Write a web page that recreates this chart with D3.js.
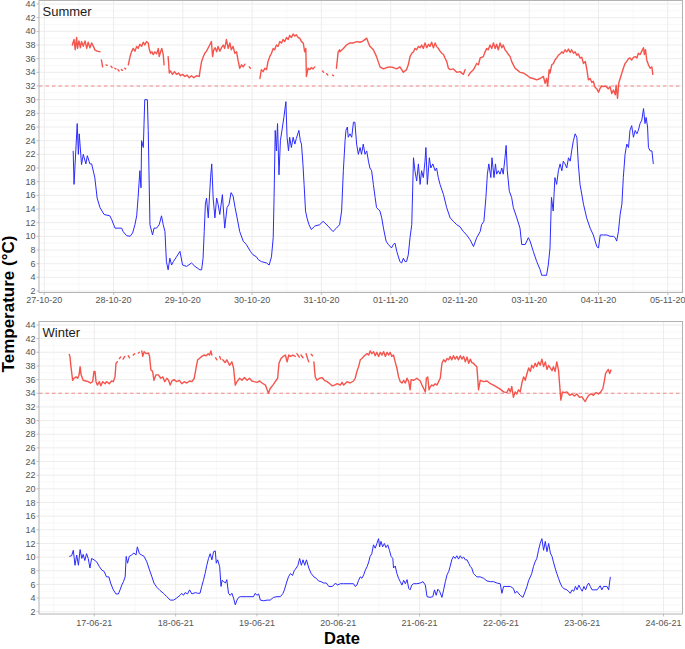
<!DOCTYPE html>
<html><head><meta charset="utf-8">
<script src="https://cdn.jsdelivr.net/npm/d3@7"></script>
<style>body{margin:0;background:#fff}svg{font-family:"Liberation Sans",Arial,sans-serif}</style>
</head><body><svg id="c" width="685" height="649"></svg>
<script>
// ---------------- DATA ----------------
// times are hours after the panel's reference midnight (UTC)
const summerRef = "2020-10-27T00:00:00Z";
const winterRef = "2021-06-16T00:00:00Z";
const summerDays = ["2020-10-27","2020-10-28","2020-10-29","2020-10-30","2020-10-31","2020-11-01","2020-11-02","2020-11-03","2020-11-04","2020-11-05"];
const winterDays = ["2021-06-17","2021-06-18","2021-06-19","2021-06-20","2021-06-21","2021-06-22","2021-06-23","2021-06-24"];
const yTicks = [2,4,6,8,10,12,14,16,18,20,22,24,26,28,30,32,34,36,38,40,42,44];
const summerThreshold = 32;
const winterThreshold = 34;

// Summer: red series (upper), null = gap in record
const summerRed = [[9.7,38.0],[10.3,38.8],[10.7,37.3],[11.2,39.1],[11.5,37.5],[12.0,38.6],[12.5,37.6],[12.9,38.5],[13.5,37.8],[14.1,38.6],[14.7,37.5],[15.2,38.4],[15.8,37.6],[16.4,38.3],[17.0,37.8],[17.5,37.3],[18.3,37.1],[19.3,37.0],null,
 [19.8,35.8],[20.2,34.8],null,[21.4,35.1],[21.8,35.0],null,[23.1,34.9],[23.5,34.7],null,[24.4,34.6],[24.8,34.5],null,[25.5,34.4],[25.9,34.2],null,[26.7,34.4],[27.1,34.3],null,[27.8,34.6],[28.2,34.5],null,
 [29.1,35.1],[29.7,36.3],[30.2,37.0],[30.8,37.5],[31.4,37.1],[32.0,37.8],[32.5,37.5],[33.1,38.1],[33.7,37.8],[34.3,38.4],[34.8,38.0],[35.4,38.5],[36.0,38.3],[36.3,37.5],[36.8,36.8],[37.3,37.0],[37.7,36.6],[38.3,37.0],[38.9,36.7],[39.5,37.5],[39.8,36.3],[40.3,37.0],[40.7,37.5],[41.2,36.6],[41.5,35.1],null,
 [42.9,36.3],[43.3,33.9],[43.7,34.2],[44.4,33.7],[45.1,34.1],[45.8,33.7],[46.5,33.9],[47.2,33.5],[47.9,33.7],[48.7,33.4],[49.5,33.6],[50.2,33.2],[51.0,33.5],[51.8,33.2],[52.7,33.5],[53.7,33.4],[53.9,34.1],[54.5,35.6],[55.0,36.2],[55.6,36.8],[56.2,37.1],[56.8,37.6],[57.3,38.0],[57.9,38.5],[58.3,36.3],[58.7,37.3],[59.2,37.6],[59.7,37.0],[60.2,37.8],[60.8,37.1],[61.4,37.6],[62.0,38.0],[62.5,37.5],[63.1,38.8],[63.7,37.5],[64.3,38.3],[64.8,37.3],[65.4,37.8],[66.0,36.8],[66.6,37.0],[67.2,35.6],[67.7,34.6],[68.3,35.1],[68.9,34.8],[69.5,35.2],null,
 [71.0,34.8],[71.4,34.6],null,
 [74.7,33.1],[75.2,34.4],[75.8,34.1],[76.4,34.6],[77.0,34.4],[77.5,35.6],[78.1,36.3],[78.7,36.8],[79.3,37.5],[79.8,37.3],[80.4,38.0],[81.0,37.8],[81.6,38.5],[82.2,38.3],[82.7,38.8],[83.3,38.5],[83.9,39.1],[84.5,38.8],[85.0,39.4],[85.6,39.1],[86.2,39.6],[86.8,39.3],[87.3,39.5],[87.9,39.1],[88.5,39.0],[89.1,38.5],[89.7,38.3],[90.2,37.0],[90.6,37.5],[90.8,33.4],[91.4,34.6],[92.0,34.4],[92.5,34.7],[93.1,34.5],[93.7,34.8],null,
 [96.4,34.2],[96.8,34.0],null,[97.8,33.8],[98.2,33.6],null,[99.8,33.6],[100.2,33.5],null,
 [101.2,34.6],[101.8,37.0],[102.3,37.3],[102.4,37.0],[103.6,37.5],[104.7,38.0],[105.9,38.3],[107.1,38.3],[108.2,38.5],[109.4,38.4],[110.5,38.6],[111.7,39.0],[112.3,38.3],[112.8,37.8],[114.0,37.3],[115.1,36.3],[116.3,34.8],[117.5,34.5],[118.6,34.7],[119.8,34.8],[120.9,34.7],[122.1,34.5],[123.2,34.8],[124.4,34.0],[125.5,34.4],[126.1,35.1],[126.7,36.3],[127.3,36.8],[127.9,37.0],[128.4,37.5],[129.0,37.3],[129.6,37.8],[130.2,37.6],[130.7,38.0],[131.3,37.5],[131.9,38.3],[132.5,37.6],[133.1,38.1],[133.6,37.8],[134.2,38.4],[134.8,37.6],[135.4,38.3],[135.9,37.8],[136.5,37.5],[137.1,37.1],[137.7,36.8],[138.3,36.6],[138.8,36.1],[139.4,35.6],[140.0,34.6],[140.6,34.4],[141.7,34.5],[142.9,34.0],[144.0,34.1],[145.2,33.7],[145.8,34.4],null,
 [146.9,33.5],[147.5,33.9],[148.7,34.4],[149.8,35.3],[150.4,35.1],[151.0,36.1],[152.1,36.3],[152.7,37.0],[153.3,37.5],[153.8,37.3],[154.4,38.0],[155.0,37.5],[155.6,38.3],[156.2,37.5],[156.7,38.1],[157.3,37.3],[157.9,38.3],[158.5,37.6],[159.0,38.0],[159.6,37.3],[160.2,37.0],[160.8,36.6],[161.4,36.3],[161.9,35.6],[162.5,35.1],[163.1,34.6],[163.7,34.4],[164.8,34.0],[166.0,33.9],[167.1,33.6],[168.3,33.2],[169.4,33.1],[170.6,32.9],[171.8,33.1],[172.9,33.4],[173.5,32.4],[174.0,33.1],[174.4,32.0],[174.9,34.4],[175.2,33.9],[175.8,35.1],[176.4,35.3],[176.9,35.8],[177.5,36.1],[178.1,36.5],[178.7,36.7],[179.3,37.0],[179.8,36.8],[180.4,37.3],[181.0,37.0],[181.6,37.4],[182.2,36.9],[182.7,37.3],[183.3,36.8],[183.9,37.0],[184.5,36.5],[185.0,36.7],[185.6,36.1],[186.2,36.2],[186.8,35.3],[187.4,35.6],[187.9,34.6],[188.5,32.9],[189.1,33.1],[189.7,32.5],[190.2,32.7],[190.8,31.8],[191.4,31.6],[192.0,31.1],[192.6,31.7],[193.1,32.0],[193.7,31.9],[194.3,32.0],[194.9,31.8],[195.4,31.6],[196.0,31.9],[196.6,30.9],[197.2,31.4],[197.8,30.7],[198.1,32.1],[198.6,30.2],[199.0,32.4],[199.5,33.1],[200.1,33.9],[200.6,34.6],[201.2,35.3],[201.8,35.6],[202.4,36.0],[202.9,36.1],[203.5,35.8],[204.1,36.2],[204.7,36.3],[205.3,36.1],[205.8,36.8],[206.4,36.6],[207.0,37.1],[207.6,37.6],[207.9,36.6],[208.3,37.3],[208.7,35.8],[209.3,35.1],[209.9,34.6],[210.5,34.8],[210.8,33.7]];

// Summer: blue series (lower)
const summerBlue = [[10.0,22.5],[10.3,17.6],[11.4,26.5],[11.8,22.0],[12.1,25.0],[12.9,20.5],[13.5,22.0],[14.4,20.6],[14.9,21.8],[15.8,20.6],[16.4,20.6],[17.5,18.6],[18.3,15.6],[19.3,14.2],[20.7,13.2],[22.7,13.0],[23.3,12.5],[24.5,11.2],[26.8,11.2],[27.3,10.7],[28.5,10.1],[29.7,10.0],[30.6,10.5],[31.4,11.7],[32.0,13.0],[32.5,15.7],[33.1,19.6],[33.5,17.1],[33.7,24.0],[34.3,23.0],[34.8,30.0],[35.7,30.0],[36.0,25.5],[36.6,11.7],[37.5,10.2],[38.0,11.2],[38.9,11.2],[39.8,11.7],[40.6,13.0],[41.2,11.7],[41.8,10.7],[42.3,6.3],[42.9,5.1],[43.5,6.8],[44.1,5.8],[44.7,6.3],[45.8,7.0],[47.0,7.8],[47.9,5.8],[49.3,5.6],[51.0,6.1],[52.2,5.6],[53.9,5.1],[54.5,5.1],[55.0,6.8],[55.4,10.7],[55.8,14.7],[56.2,15.6],[56.8,12.7],[57.6,18.6],[58.0,20.6],[58.5,15.6],[59.1,12.7],[59.7,15.6],[60.2,14.7],[60.8,13.2],[61.7,16.1],[62.5,11.2],[63.3,14.2],[64.0,14.7],[64.7,16.4],[65.4,15.9],[66.1,14.2],[66.8,12.7],[67.7,10.7],[68.9,9.3],[70.0,8.8],[71.4,7.8],[72.3,7.3],[73.5,7.0],[74.1,6.6],[75.2,6.3],[77.0,6.1],[77.9,5.8],[78.7,7.0],[79.3,9.8],[79.6,15.7],[80.0,25.5],[80.4,22.5],[80.8,26.5],[81.3,19.0],[81.8,24.0],[83.0,27.4],[83.7,29.7],[84.1,24.5],[84.6,22.5],[85.0,24.5],[85.6,23.0],[86.2,24.5],[86.8,23.5],[87.3,24.3],[88.2,25.5],[88.7,24.0],[89.1,23.5],[89.6,20.6],[90.0,17.6],[90.5,13.7],[91.0,12.7],[91.7,11.7],[92.5,11.0],[93.7,11.5],[95.4,11.7],[96.6,12.2],[98.3,11.5],[100.0,10.7],[101.2,11.2],[102.3,11.7],
 [103.0,13.7],[103.6,19.6],[104.2,24.0],[104.5,25.5],[105.0,26.0],[105.3,24.5],[105.9,25.0],[106.5,24.5],[107.1,26.7],[107.6,26.7],[108.2,23.5],[108.8,22.0],[109.4,23.0],[109.9,22.0],[110.5,23.5],[111.1,22.0],[111.7,22.5],[112.3,21.0],[112.8,20.0],[113.4,19.6],[114.0,17.6],[114.6,15.7],[115.1,14.2],[116.3,13.7],[116.9,12.7],[117.5,11.2],[118.4,9.3],[119.2,8.8],[120.3,8.3],[120.9,8.8],[121.5,9.0],[122.1,7.8],[123.2,6.3],[123.8,6.1],[124.4,6.8],[125.0,6.3],[125.5,6.3],[126.1,7.3],[126.7,9.8],[127.3,11.7],[127.9,21.5],[128.4,19.6],[129.0,18.1],[129.6,20.6],[130.2,17.6],[130.7,19.6],[131.3,18.6],[131.9,21.0],[132.2,23.0],[132.7,17.6],[133.4,21.5],[133.9,20.0],[134.6,20.6],[135.4,19.6],[135.9,20.0],[136.5,18.6],[137.1,17.6],[138.3,16.1],[139.4,14.2],[140.6,12.7],[141.7,12.2],[142.9,11.7],[144.0,11.4],[145.2,10.7],[146.3,10.2],[147.5,9.5],[148.7,8.5],[149.8,9.8],[151.0,10.7],[151.5,11.7],[152.3,12.2],[153.0,15.7],[153.5,19.1],[154.0,20.6],[154.7,18.6],[155.1,21.5],[155.8,18.6],[156.3,20.6],[156.7,19.1],[157.3,19.6],[157.9,19.1],[158.5,20.0],[159.0,19.1],[159.6,21.5],[160.0,23.3],[160.4,19.6],[161.1,16.6],[161.9,15.7],[162.5,14.2],[163.7,12.7],[164.8,11.2],[165.4,8.8],[166.6,8.8],[167.7,9.8],[168.3,9.3],[169.4,7.8],[170.6,6.3],[171.8,5.1],[172.3,4.3],[172.9,4.3],[174.0,4.3],[174.6,5.8],[175.2,8.3],[175.7,15.7],[176.3,13.7],[176.9,18.6],[177.5,17.6],[178.1,19.6],[178.7,20.6],[179.3,19.6],[179.8,21.0],[180.4,20.6],[181.0,20.0],[181.6,21.5],[182.2,21.0],[182.7,22.5],[183.3,24.0],[183.9,25.0],[184.5,24.5],[185.0,20.6],[185.6,17.6],[186.8,14.7],[187.9,12.7],[189.1,11.2],[190.2,10.2],[191.4,8.5],[192.0,8.3],[192.6,10.2],[193.7,10.2],[194.9,10.2],[196.0,10.0],[197.2,10.0],[197.8,9.8],[198.3,9.3],[198.9,10.7],[199.5,13.2],[200.1,14.7],[200.6,18.6],[201.2,22.0],[201.8,23.5],[202.4,23.0],[202.9,25.5],[203.5,26.2],[204.1,24.5],[204.7,25.5],[205.3,25.0],[205.8,25.5],[206.4,26.5],[207.0,27.0],[207.6,28.7],[208.1,26.5],[208.5,27.4],[209.0,26.0],[209.3,23.0],[209.9,22.5],[210.5,22.5],[211.0,20.6]];

// Winter: red series (upper)
const winterRed = [[16.6,39.7],[16.8,39.4],[17.1,37.9],[17.6,35.9],[18.0,36.2],[18.6,36.4],[19.1,36.2],[19.5,36.7],[19.8,37.9],[20.1,36.7],[20.7,35.9],[21.5,35.8],[22.2,35.7],[22.9,35.5],[23.5,35.7],[23.9,37.2],[24.2,37.2],[24.5,35.7],[24.9,35.2],[25.5,35.7],[25.9,35.1],[26.5,35.7],[27.2,35.4],[27.6,35.7],[28.4,35.4],[29.1,35.8],[29.6,35.7],[30.1,36.4],[30.4,38.4],[30.8,38.6],null,
 [31.4,39.1],[31.8,39.3],null,[32.5,39.0],[33.0,39.4],null,[34.0,39.5],[34.4,39.2],null,[35.5,39.6],[35.9,39.8],null,[37.0,39.9],[37.3,40.0],null,
 [38.0,40.2],[38.3,39.4],[38.7,40.1],[39.3,39.8],[40.0,39.9],[40.3,39.4],[40.7,37.4],[41.2,37.2],[41.6,35.9],[42.2,36.7],[42.9,36.7],[43.6,36.2],[44.2,36.4],[44.8,35.7],[45.4,36.2],[45.9,35.9],[46.4,35.2],[46.9,35.8],[47.6,36.0],[48.3,35.7],[49.1,35.9],[49.8,35.4],[50.5,35.7],[51.3,35.5],[52.1,35.8],[52.8,35.7],[53.5,36.2],[54.1,37.9],[54.5,38.9],[55.0,39.1],[55.7,39.4],[56.4,39.6],[57.0,39.5],[57.6,39.8],[58.0,39.6],[58.4,40.2],[58.7,39.6],null,
 [59.8,39.2],[60.2,38.9],null,[61.0,39.4],[61.3,39.0],null,
 [61.9,38.9],[62.6,38.5],[63.1,38.9],[63.9,38.1],[64.6,38.6],[65.1,37.7],[65.6,35.2],[66.1,35.7],[66.9,36.2],[67.6,35.9],[68.3,36.3],[69.1,35.9],[69.8,36.2],[70.5,35.8],[71.2,35.7],[72.0,35.6],[72.8,35.8],[73.5,35.5],[74.5,35.2],[75.0,34.5],[75.4,34.0],[75.9,34.7],[76.7,35.2],[77.4,35.7],[78.1,36.2],[78.5,38.4],[79.1,39.1],[79.7,39.4],[80.4,39.6],[80.9,38.6],[81.4,39.6],[81.9,39.4],[82.6,39.6],[83.3,39.4],null,
 [83.8,39.8],[84.5,39.3],null,[85.0,39.6],[85.6,39.2],null,[86.5,39.8],[87.0,39.0],[87.3,38.6],null,[88.0,39.7],[88.4,39.5],null,
 [88.8,38.6],[89.2,36.4],[89.7,35.9],[90.5,36.2],[91.2,36.3],[91.9,35.9],[92.7,35.7],[93.5,35.4],[94.2,35.1],[94.9,35.2],[95.7,35.4],[96.6,35.2],[97.1,35.6],[97.6,35.2],[98.6,35.7],[99.5,35.5],[100.5,35.8],[101.0,36.2],[101.5,37.2],[102.0,37.9],[102.5,38.9],[103.0,39.1],[103.5,39.4],[104.0,39.6],[104.5,39.8],[105.0,39.6],[105.4,40.2],[105.9,39.8],[106.4,40.1],[106.9,39.5],[107.4,40.0],[107.9,39.4],[108.4,40.0],[108.9,39.6],[109.4,40.1],[109.9,39.4],[110.4,40.0],[110.9,39.6],[111.3,40.0],[111.8,39.4],[112.3,39.6],[112.8,38.6],[113.3,37.7],[113.8,36.4],[114.3,35.7],[114.8,35.5],[115.3,35.9],[115.8,35.5],[116.3,36.2],[116.8,35.7],[117.2,34.5],[117.5,36.0],[118.2,35.9],[119.2,36.2],[120.2,35.8],[120.7,35.2],[121.2,34.7],[121.7,34.2],[122.0,36.2],[122.4,36.4],[122.8,34.5],[123.1,34.9],[123.6,35.2],[124.1,35.1],[124.6,35.4],[125.1,35.2],[125.6,35.7],[126.1,36.2],[126.6,38.4],[127.1,38.9],[127.6,38.6],[128.1,39.1],[128.6,38.9],[129.0,39.4],[129.5,38.9],[130.0,39.5],[130.5,39.0],[131.0,39.4],[131.5,38.9],[132.0,39.5],[132.5,39.0],[133.0,39.4],[133.5,38.6],[134.0,39.3],[134.5,38.4],[135.0,39.0],[135.4,38.5],[135.9,38.4],[136.4,38.1],[136.9,37.9],[137.2,35.9],[137.4,34.5],[137.9,35.9],[138.9,35.7],[139.9,35.8],[140.9,35.4],[141.8,35.2],[142.8,34.9],[143.8,34.6],[144.8,34.2],[145.8,34.1],[146.3,34.7],[146.8,34.2],[147.2,35.0],[147.7,33.4],[148.2,34.2],[148.7,33.9],[149.2,34.5],[149.7,34.2],[150.2,35.5],[150.7,36.4],[151.2,35.9],[151.7,36.9],[152.2,37.7],[152.7,37.2],[153.1,38.1],[153.6,37.7],[154.1,38.4],[154.6,37.9],[155.1,38.6],[155.6,38.1],[156.1,39.0],[156.6,37.9],[157.1,38.6],[157.6,37.5],[158.1,38.1],[158.6,37.7],[159.1,37.3],[159.5,37.9],[160.0,37.2],[160.5,38.6],[161.0,37.4],[161.3,35.5],[161.7,33.0],[162.2,34.2],[162.7,34.1],[163.5,34.2],[164.3,33.7],[165.0,33.9],[165.7,33.6],[166.4,33.9],[167.2,33.4],[167.9,33.5],[168.4,33.1],[168.9,32.8],[169.4,33.3],[169.9,33.7],[170.6,33.9],[171.3,33.7],[172.1,34.1],[172.8,33.9],[173.5,34.2],[174.1,34.7],[174.5,35.7],[174.9,36.9],[175.3,37.2],[175.7,37.5],[176.1,36.9],[176.5,37.4]];

// Winter: blue series (lower)
const winterBlue = [[16.6,10.1],[17.3,10.2],[17.8,11.0],[18.3,8.8],[18.8,10.3],[19.3,8.8],[19.8,11.1],[20.3,9.8],[20.7,10.4],[21.2,9.5],[21.7,10.5],[22.2,9.8],[22.7,8.4],[23.2,9.8],[23.9,9.6],[24.7,9.3],[25.5,8.6],[26.2,8.1],[26.9,7.9],[27.6,7.1],[28.3,7.1],[28.8,6.2],[29.6,5.2],[30.4,4.6],[31.1,4.6],[31.6,5.2],[32.1,5.9],[32.6,6.4],[33.1,7.1],[33.4,10.1],[33.8,9.1],[34.3,10.1],[35.0,10.3],[35.7,10.6],[36.3,10.3],[36.7,11.5],[37.3,10.5],[38.0,10.3],[38.7,10.1],[39.5,9.3],[40.3,8.1],[41.0,7.1],[41.6,6.2],[42.4,5.6],[43.4,5.1],[44.4,4.7],[45.4,4.2],[46.4,3.7],[47.4,3.7],[48.3,4.0],[49.3,4.4],[49.8,4.7],[50.3,4.4],[50.8,4.8],[51.5,4.6],[52.1,5.2],[52.8,4.6],[53.8,4.8],[54.5,4.7],[55.2,4.7],[55.7,5.7],[56.2,6.6],[56.7,7.6],[57.2,8.8],[57.7,9.8],[58.2,10.5],[58.7,9.6],[59.2,10.8],[59.7,10.9],[60.0,9.1],[60.4,9.6],[61.0,8.6],[61.4,5.7],[61.7,6.6],[62.2,6.4],[62.7,6.2],[63.1,6.7],[63.6,4.7],[64.1,4.4],[64.6,4.7],[65.1,4.0],[65.6,3.0],[66.1,3.7],[66.6,4.1],[67.1,4.2],[69.0,4.2],[71.0,4.2],[71.5,4.7],[72.0,4.4],[72.5,4.6],[73.0,3.7],[74.0,3.6],[75.0,3.7],[75.9,3.7],[76.9,4.1],[77.9,4.2],[78.9,4.2],[79.7,4.7],[80.1,5.2],[80.7,6.2],[81.3,7.1],[81.9,7.6],[82.5,7.3],[83.0,8.0],[83.6,8.4],[84.1,8.8],[84.6,9.8],[85.1,8.8],[85.6,9.6],[86.1,8.8],[86.6,9.6],[87.3,8.4],[88.0,7.6],[88.8,7.1],[89.5,6.9],[90.2,6.5],[90.9,6.4],[91.7,6.2],[92.5,6.2],[93.2,5.7],[94.2,5.7],[94.7,5.9],[95.2,6.2],[95.7,5.9],[96.6,6.1],[97.6,6.1],[98.6,6.1],[99.5,6.1],[100.5,6.1],[101.0,5.7],[101.5,5.9],[102.0,6.6],[102.5,7.1],[103.0,6.9],[103.5,7.4],[104.0,8.1],[104.5,8.6],[105.0,9.3],[105.4,10.1],[105.9,10.5],[106.4,11.8],[106.9,11.3],[107.4,12.0],[107.9,12.7],[108.2,11.5],[108.6,12.3],[109.1,11.5],[109.6,12.0],[110.1,11.4],[110.6,11.8],[111.1,11.0],[111.6,10.1],[112.1,9.8],[112.3,8.4],[112.8,8.7],[113.3,7.6],[113.8,6.9],[114.3,6.4],[114.8,5.9],[115.3,6.6],[115.8,6.1],[116.3,6.7],[116.8,5.4],[117.2,5.2],[117.7,5.9],[118.2,6.1],[119.2,6.1],[120.2,6.2],[121.0,6.4],[121.7,5.9],[122.2,4.2],[123.1,4.1],[123.9,4.2],[124.4,5.2],[124.9,4.4],[125.4,5.3],[125.9,5.0],[126.6,4.1],[127.1,5.2],[127.6,6.4],[128.1,7.4],[128.6,7.9],[129.0,8.6],[129.5,9.6],[130.0,10.1],[130.5,9.8],[131.0,10.2],[131.5,9.7],[132.0,10.2],[132.5,9.8],[133.0,10.0],[133.5,9.6],[134.0,9.6],[134.5,9.1],[135.0,8.6],[135.4,8.4],[135.9,7.6],[136.9,7.1],[137.9,7.1],[138.9,6.9],[139.9,6.5],[140.9,6.4],[141.8,6.4],[142.8,6.2],[143.8,6.1],[144.3,4.7],[144.8,5.7],[145.8,5.7],[146.8,5.7],[147.7,5.4],[148.2,4.7],[148.7,5.0],[149.7,4.4],[150.5,4.1],[151.2,5.0],[151.7,5.7],[152.2,6.6],[152.7,7.1],[153.1,7.6],[153.6,8.6],[154.1,9.3],[154.6,9.8],[155.1,11.0],[155.6,12.0],[156.1,12.7],[156.6,11.0],[157.1,12.3],[157.6,10.8],[158.1,12.0],[158.6,10.6],[159.1,10.1],[159.5,9.3],[160.0,8.4],[160.5,7.6],[161.0,6.9],[161.5,6.2],[162.0,5.7],[162.5,5.4],[163.5,5.2],[164.5,4.7],[165.0,5.2],[165.5,5.0],[166.0,5.7],[166.5,5.2],[167.0,5.9],[167.5,5.4],[168.0,5.0],[168.5,5.7],[169.0,5.2],[169.5,5.9],[169.9,6.2],[170.4,5.7],[170.9,5.2],[171.4,5.2],[172.4,5.2],[173.3,5.8],[173.8,5.2],[174.3,5.7],[175.3,5.7],[175.8,5.2],[176.3,7.1]];

// ---------------- DRAW ----------------
const svg = d3.select("#c");
const H = 3600e3;
const panels = [
  {name:"Summer", ref:summerRef, days:summerDays, red:summerRed, blue:summerBlue, thr:summerThreshold,
   x0:-1.84, x1:221.1, top:0.5, bottom:292.5, y2:291, y44:4, labelY:303},
  {name:"Winter", ref:winterRef, days:winterDays, red:winterRed, blue:winterBlue, thr:winterThreshold,
   x0:7.67, x1:197.6, top:321.5, bottom:614, y2:611.7, y44:325, labelY:625.5}
];
const left = 39, right = 682.5;

panels.forEach(p => {
  const ref = new Date(p.ref).getTime();
  const t = h => new Date(ref + h*H);
  const x = d3.scaleUtc().domain([t(p.x0), t(p.x1)]).range([left, right]);
  const y = d3.scaleLinear().domain([2,44]).range([p.y2, p.y44]);
  const g = svg.append("g");
  const clipId = "clip" + p.name;
  svg.append("clipPath").attr("id", clipId).append("rect")
    .attr("x", left).attr("y", p.top).attr("width", right-left).attr("height", p.bottom-p.top);

  // minor grid
  const xMinor = d3.utcHour.every(12).range(t(p.x0), t(p.x1)).filter(d => d.getUTCHours() === 12);
  g.selectAll(".vxm").data(xMinor).join("line")
    .attr("x1", d=>x(d)).attr("x2", d=>x(d)).attr("y1", p.top).attr("y2", p.bottom)
    .attr("stroke", "#f3f3f3").attr("stroke-width", 0.6);
  const yMinor = yTicks.map(v => v-1).filter(v => y(v) < p.bottom && y(v) > p.top);
  g.selectAll(".hym").data(yMinor).join("line")
    .attr("x1", left).attr("x2", right).attr("y1", d=>y(d)).attr("y2", d=>y(d))
    .attr("stroke", "#f3f3f3").attr("stroke-width", 0.6);
  // major grid
  const dayDates = p.days.map(s => new Date(s + "T00:00:00Z"));
  g.selectAll(".vx").data(dayDates).join("line")
    .attr("x1", d=>x(d)).attr("x2", d=>x(d)).attr("y1", p.top).attr("y2", p.bottom)
    .attr("stroke", "#e8e8e8").attr("stroke-width", 0.8);
  g.selectAll(".hy").data(yTicks).join("line")
    .attr("x1", left).attr("x2", right).attr("y1", d=>y(d)).attr("y2", d=>y(d))
    .attr("stroke", "#e8e8e8").attr("stroke-width", 0.8);

  // threshold
  g.append("line").attr("x1", left).attr("x2", right)
    .attr("y1", y(p.thr)).attr("y2", y(p.thr))
    .attr("stroke", "#f48a85").attr("stroke-width", 1.2).attr("stroke-dasharray", "3.5,3");

  const line = d3.line().defined(d => d !== null).x(d => x(t(d[0]))).y(d => y(d[1]));
  const lg = g.append("g").attr("clip-path", `url(#${clipId})`);
  lg.append("path").datum(p.red).attr("d", line).attr("fill","none")
    .attr("stroke", "#f5544c").attr("stroke-width", 1.4).attr("stroke-linejoin","round").attr("stroke-linecap","round");
  lg.append("path").datum(p.blue).attr("d", line).attr("fill","none")
    .attr("stroke", "#2a2aff").attr("stroke-width", 1).attr("stroke-linejoin","round");

  // border
  g.append("rect").attr("x", left).attr("y", p.top).attr("width", right-left).attr("height", p.bottom-p.top)
    .attr("fill","none").attr("stroke","#b3b3b3").attr("stroke-width",1);

  // y axis ticks & labels
  g.selectAll(".yt").data(yTicks).join("line")
    .attr("x1", left-2.5).attr("x2", left).attr("y1", d=>y(d)).attr("y2", d=>y(d))
    .attr("stroke", "#b3b3b3").attr("stroke-width", 0.8);
  g.selectAll(".yl").data(yTicks).join("text")
    .attr("x", left-3.5).attr("y", d=>y(d)).attr("dy","0.35em").attr("text-anchor","end")
    .attr("font-size", 9).attr("fill", "#555").text(d=>d);
  // x axis ticks & labels
  const fmt = d3.utcFormat("%d-%m-%y");
  g.selectAll(".xt").data(dayDates).join("line")
    .attr("x1", d=>x(d)).attr("x2", d=>x(d)).attr("y1", p.bottom).attr("y2", p.bottom+2.5)
    .attr("stroke", "#b3b3b3").attr("stroke-width", 0.8);
  g.selectAll(".xl").data(dayDates).join("text")
    .attr("x", d=>x(d)).attr("y", p.labelY).attr("text-anchor","middle")
    .attr("font-size", 9).attr("fill", "#555").text(d=>fmt(d));

  // panel label
  g.append("text").attr("x", left+3.5).attr("y", p.top+15).attr("font-size", 13).attr("fill","#1a1a1a").text(p.name);
});

svg.append("text").attr("transform","translate(14,304) rotate(-90)").attr("text-anchor","middle")
  .attr("font-size", 17).attr("font-weight","bold").attr("fill","#000").text("Temperature (°C)");
svg.append("text").attr("x", 342).attr("y", 644).attr("text-anchor","middle")
  .attr("font-size", 16.5).attr("font-weight","bold").attr("fill","#000").text("Date");
</script></body></html>
